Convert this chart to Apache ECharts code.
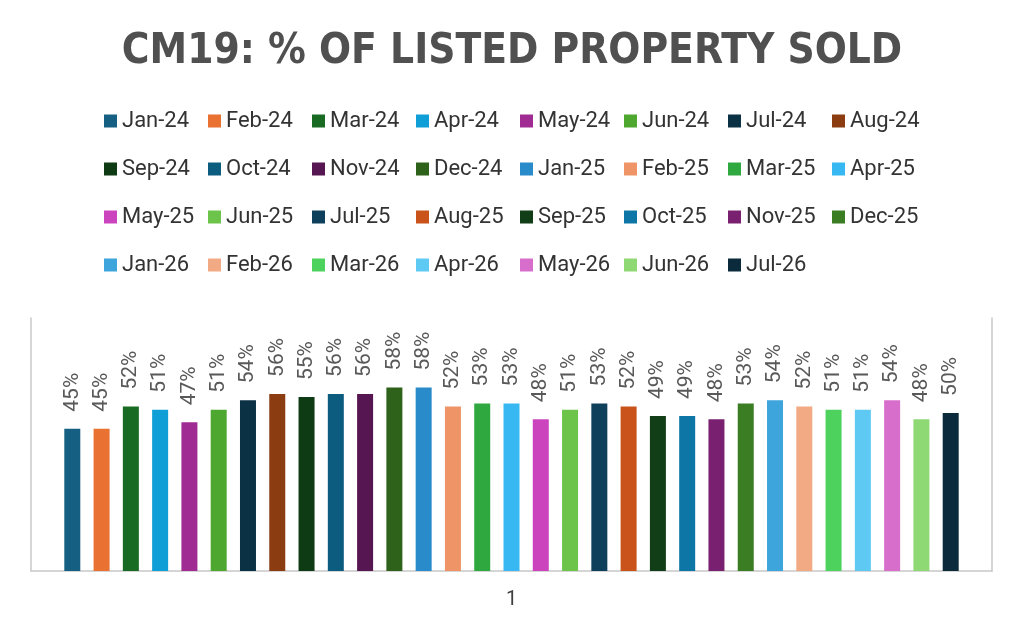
<!DOCTYPE html>
<html>
<head>
<meta charset="utf-8">
<script src="https://cdn.jsdelivr.net/npm/echarts@6/dist/echarts.min.js"></script>
<style>
  html, body { margin: 0; padding: 0; background: #fff; }
  #chart { width: 1024px; height: 630px; }
</style>
</head>
<body>
<div id="chart"></div>
<script>
// months shown in the legend, one series each
var months = ['Jan-24', 'Feb-24', 'Mar-24', 'Apr-24', 'May-24', 'Jun-24', 'Jul-24', 'Aug-24',
  'Sep-24', 'Oct-24', 'Nov-24', 'Dec-24', 'Jan-25', 'Feb-25', 'Mar-25', 'Apr-25',
  'May-25', 'Jun-25', 'Jul-25', 'Aug-25', 'Sep-25', 'Oct-25', 'Nov-25', 'Dec-25',
  'Jan-26', 'Feb-26', 'Mar-26', 'Apr-26', 'May-26', 'Jun-26', 'Jul-26'];
// % of listed property sold
var soldPct = [45, 45, 52, 51, 47, 51, 54, 56, 55, 56, 56, 58, 58, 52, 53, 53,
  48, 51, 53, 52, 49, 49, 48, 53, 54, 52, 51, 51, 54, 48, 50];
var categories = ['1'];
var colors = ['#156082', '#E97132', '#196B24', '#0F9ED5', '#A02B93', '#4EA72E',
  '#0B3144', '#8B3C10', '#0E3A14', '#0C5C80', '#561651', '#2E6119',
  '#2A8BCB', '#EF9466', '#2EA83F', '#37B8F2', '#CB44BE', '#6CC44A',
  '#0E405C', '#C9531A', '#113E16', '#0E76A6', '#7A2070', '#3A7D22',
  '#3DA5DC', '#F2AA84', '#4DD25E', '#5ECAF4', '#D86ECC', '#8ED973', '#0B2A3C'];

var chart = echarts.init(document.getElementById('chart'));

var series = months.map(function (m, i) {
  return {
    name: m,
    type: 'bar',
    data: [soldPct[i]],
    barWidth: 16,
    barGap: '83%',
    itemStyle: { color: colors[i] },
    label: {
      show: true,
      position: 'top',
      rotate: 90,
      align: 'left',
      verticalAlign: 'middle',
      distance: 17,
      formatter: '{c}%',
      fontSize: 21,
      fontFamily: 'Roboto',
      color: '#595959'
    }
  };
});

var option = {
  backgroundColor: '#fff',
  animation: false,
  color: colors,
  title: {
    text: 'CM19: % OF LISTED PROPERTY SOLD',
    left: 'center',
    top: 26,
    textStyle: {
      fontFamily: 'DejaVu Sans Condensed',
      fontWeight: 'bold',
      fontSize: 42,
      color: '#505050'
    }
  },
  legend: {
    data: months,
    left: 104,
    top: 102,
    width: 830,
    padding: 0,
    itemWidth: 13,
    itemHeight: 13,
    itemGap: 10,
    icon: 'rect',
    textStyle: {
      fontFamily: 'Roboto',
      fontSize: 22,
      color: '#333333',
      width: 76,
      lineHeight: 38
    }
  },
  grid: {
    left: 31,
    right: 32,
    top: 318,
    bottom: 59
  },
  xAxis: {
    type: 'category',
    data: categories,
    axisTick: { show: false },
    axisLine: { lineStyle: { color: '#C8C8C8', width: 1.5 } },
    axisLabel: { fontFamily: 'Roboto', fontSize: 20, color: '#404040', margin: 19 }
  },
  yAxis: [{
    type: 'value',
    min: 0,
    max: 80,
    position: 'left',
    splitLine: { show: false },
    axisLabel: { show: false },
    axisTick: { show: false },
    axisLine: { show: true, lineStyle: { color: '#C8C8C8', width: 1.5 } }
  }, {
    type: 'value',
    min: 0,
    max: 80,
    position: 'right',
    splitLine: { show: false },
    axisLabel: { show: false },
    axisTick: { show: false },
    axisLine: { show: true, lineStyle: { color: '#C8C8C8', width: 1.5 } }
  }],
  series: series
};

chart.setOption(option);
</script>
</body>
</html>
